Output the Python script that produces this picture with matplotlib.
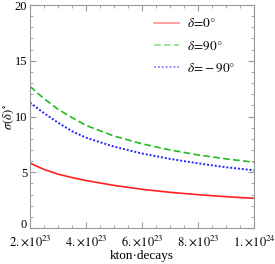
import matplotlib
matplotlib.use("Agg")
import matplotlib.pyplot as plt
import matplotlib.transforms as mtransforms
from matplotlib.ticker import MultipleLocator

plt.rcParams['font.family'] = ['Liberation Serif', 'DejaVu Serif']
plt.rcParams['mathtext.fontset'] = 'stix'

exposure = [2e23, 2.5e23, 3e23, 3.5e23, 4e23, 5e23, 6e23, 7e23, 8e23, 9e23, 10e23]
sigma_d0 = [5.82, 5.25, 4.83, 4.52, 4.26, 3.82, 3.47, 3.2, 2.99, 2.81, 2.66]
sigma_d90 = [12.7, 11.6, 10.65, 9.9, 9.2, 8.25, 7.55, 7.0, 6.55, 6.2, 5.9]
sigma_dm90 = [11.25, 10.3, 9.45, 8.68, 8.1, 7.3, 6.68, 6.2, 5.8, 5.45, 5.17]

xticks = [2e23, 4e23, 6e23, 8e23, 1e24]
xtick_labels = [r"$2.\!\times\!10^{23}$", r"$4.\!\times\!10^{23}$", r"$6.\!\times\!10^{23}$",
                r"$8.\!\times\!10^{23}$", r"$1.\!\times\!10^{24}$"]

fig = plt.figure(figsize=(2.75, 2.64), dpi=100)
ax = fig.add_axes([30/275, 36/264, 224/275, 223/264])

ax.plot(exposure, sigma_d0, color='#ff2020', lw=1.2, ls='-', label=r'$\delta\!=\!0°$')
ax.plot(exposure, sigma_d90, color='#22bb22', lw=1.2, ls=(0, (4, 2)), label=r'$\delta\!=\!90°$')
ax.plot(exposure, sigma_dm90, color='#2222ff', lw=1.4, ls=(0, (1, 1)), label=r'$\delta\!=\!-90°$')

ax.set_xlim(2e23, 1e24)
ax.set_ylim(0, 20)
ax.set_xticks(xticks)
ax.set_xticklabels(xtick_labels)
ax.xaxis.set_minor_locator(MultipleLocator(0.5e23))
ax.yaxis.set_major_locator(MultipleLocator(5))
ax.yaxis.set_minor_locator(MultipleLocator(1))

for s in ax.spines.values():
    s.set_color('#999999')
    s.set_linewidth(0.8)
ax.tick_params(which='both', direction='in', color='#999999', top=True, right=True,
               labeltop=False, labelright=False)
ax.tick_params(which='major', length=4, labelsize=9)
ax.tick_params(which='minor', length=2)
ax.tick_params(axis='y', which='major', pad=2)
ax.tick_params(axis='x', which='major', pad=4)

# lift the "0" label slightly above the axis corner, as in the reference
fig.canvas.draw()
for lbl in ax.get_yticklabels():
    if lbl.get_text() in ('0', '$\\mathdefault{0}$'):
        lbl.set_transform(lbl.get_transform() +
                          mtransforms.ScaledTranslation(0, 4/100, fig.dpi_scale_trans))

ax.set_xlabel('kton·decays', fontsize=9.5, labelpad=1)
ax.set_ylabel(r'$\sigma(\delta)^\circ$', fontsize=9)
ax.yaxis.set_label_coords(-0.062, 0.5)

leg = ax.legend(loc='upper left', bbox_to_anchor=(0.555, 0.945), frameon=False, fontsize=9.5,
                handlelength=1.85, handletextpad=0.6, labelspacing=0.75,
                borderpad=0, borderaxespad=0)
for h in leg.get_lines():
    h.set_alpha(0.5)

fig.savefig('out.png', dpi=100)
